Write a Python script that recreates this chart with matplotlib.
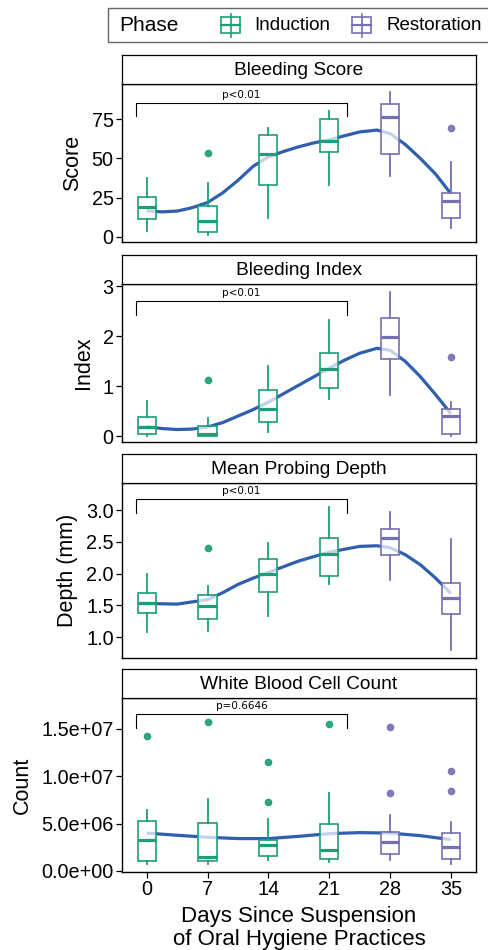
import numpy as np
import matplotlib.pyplot as plt
from matplotlib.patches import Rectangle
from matplotlib.lines import Line2D

plt.rcParams['font.family'] = ['Liberation Sans', 'DejaVu Sans']

# --- data ---
DAYS = [0, 7, 14, 21, 28, 35]
PHASE = ['Induction', 'Induction', 'Induction', 'Induction', 'Restoration', 'Restoration']
PHASE_COLORS = {'Induction': '#1b9e77', 'Restoration': '#7570b3'}
SMOOTH_COLOR = '#2f5fae'

TITLES = ['Bleeding Score', 'Bleeding Index', 'Mean Probing Depth', 'White Blood Cell Count']
YLABELS = ['Score', 'Index', 'Depth (mm)', 'Count']
PVALUES = ['p<0.01', 'p<0.01', 'p<0.01', 'p=0.6646']

# Bleeding Score
bs_whislo = [3.6, 1.0, 11.7, 33.3, 38.9, 5.7]
bs_q1 = [11.0, 3.2, 32.9, 54.1, 52.9, 11.7]
bs_med = [18.7, 10.2, 53.0, 61.4, 76.6, 22.7]
bs_q3 = [25.5, 19.7, 65.0, 75.6, 84.7, 28.0]
bs_whishi = [37.2, 34.4, 69.6, 80.5, 92.6, 48.0]
bs_fliers = [[], [53.7], [], [], [], [69.6]]
bs_smooth_x = [0, 1.75, 3.5, 5.25, 7, 8.75, 10.5, 12.25, 14, 15.75, 17.5, 19.25, 21, 22.75, 24.5, 26.5, 28, 29.75, 31.5, 33.25, 35]
bs_smooth_y = [16.5, 15.8, 16.3, 18.5, 21.8, 28.0, 36.0, 45.0, 51.0, 54.5, 57.5, 60.0, 62.0, 64.5, 67.0, 68.2, 66.0, 59.0, 50.0, 40.0, 27.5]

# Bleeding Index
bi_whislo = [0.01, 0.0, 0.08, 0.75, 0.83, 0.0]
bi_q1 = [0.05, 0.0, 0.28, 0.97, 1.54, 0.05]
bi_med = [0.18, 0.05, 0.55, 1.34, 1.99, 0.40]
bi_q3 = [0.38, 0.21, 0.92, 1.66, 2.37, 0.54]
bi_whishi = [0.70, 0.36, 1.41, 2.33, 2.89, 0.68]
bi_fliers = [[], [1.13], [], [], [], [1.58]]
bi_smooth_x = [0, 1.75, 3.5, 5.25, 7, 8.75, 10.5, 12.25, 14, 15.75, 17.5, 19.25, 21, 22.75, 24.5, 26.5, 28, 29.75, 31.5, 33.25, 35]
bi_smooth_y = [0.19, 0.15, 0.13, 0.14, 0.18, 0.27, 0.40, 0.53, 0.68, 0.85, 1.02, 1.19, 1.36, 1.52, 1.66, 1.76, 1.72, 1.50, 1.19, 0.83, 0.45]

# Mean Probing Depth
pd_whislo = [1.08, 1.09, 1.33, 1.83, 1.90, 0.80]
pd_q1 = [1.38, 1.28, 1.71, 1.97, 2.29, 1.37]
pd_med = [1.54, 1.49, 2.00, 2.31, 2.56, 1.61]
pd_q3 = [1.69, 1.67, 2.23, 2.56, 2.71, 1.85]
pd_whishi = [2.00, 1.81, 2.49, 3.05, 2.98, 2.54]
pd_fliers = [[], [2.40], [], [], [], []]
pd_smooth_x = [0, 3.5, 7, 8.75, 10.5, 12.25, 14, 17.5, 21, 24.5, 26.5, 28, 29.75, 31.5, 33.25, 35]
pd_smooth_y = [1.53, 1.52, 1.59, 1.70, 1.83, 1.93, 2.02, 2.20, 2.34, 2.43, 2.44, 2.41, 2.30, 2.14, 1.93, 1.69]

# White Blood Cell Count
wb_whislo = [7.7e5, 7.7e5, 1.2e6, 9.9e5, 1.16e6, 7.0e5]
wb_q1 = [1.09e6, 1.06e6, 1.58e6, 1.27e6, 1.80e6, 1.30e6]
wb_med = [3.27e6, 1.48e6, 2.75e6, 2.22e6, 3.10e6, 2.57e6]
wb_q3 = [5.32e6, 5.10e6, 3.31e6, 5.00e6, 4.12e6, 4.05e6]
wb_whishi = [6.41e6, 7.60e6, 5.46e6, 8.24e6, 5.92e6, 5.18e6]
wb_fliers = [[1.426e7], [1.574e7], [1.155e7, 7.29e6], [1.556e7], [1.525e7, 8.24e6], [1.053e7, 8.45e6]]
wb_smooth_x = [0, 3.5, 7, 10.5, 14, 17.5, 21, 24.5, 28, 31.5, 35]
wb_smooth_y = [4.0e6, 3.77e6, 3.56e6, 3.42e6, 3.42e6, 3.66e6, 3.94e6, 4.05e6, 4.0e6, 3.73e6, 3.31e6]

# significance brackets: x span, (end bottom, bar top, label y)
BRACKET_X = [-1.2, 23.0]
BRACKET_Y = [(77.5, 85.4, 87.5), (2.42, 2.70, 2.76), (2.96, 3.18, 3.22), (1.51e7, 1.658e7, 1.69e7)]

YLIMS = [(-3.5, 97.7), (-0.12, 3.05), (0.67, 3.43), (-1.1e5, 1.827e7)]
YTICKS = [[0, 25, 50, 75], [0, 1, 2, 3], [1.0, 1.5, 2.0, 2.5, 3.0], [0, 5e6, 1e7, 1.5e7]]
YTICKLABELS = [['0', '25', '50', '75'], ['0', '1', '2', '3'],
               ['1.0', '1.5', '2.0', '2.5', '3.0'],
               ['0.0e+00', '5.0e+06', '1.0e+07', '1.5e+07']]

panels = [
    (bs_whislo, bs_q1, bs_med, bs_q3, bs_whishi, bs_fliers, bs_smooth_x, bs_smooth_y),
    (bi_whislo, bi_q1, bi_med, bi_q3, bi_whishi, bi_fliers, bi_smooth_x, bi_smooth_y),
    (pd_whislo, pd_q1, pd_med, pd_q3, pd_whishi, pd_fliers, pd_smooth_x, pd_smooth_y),
    (wb_whislo, wb_q1, wb_med, wb_q3, wb_whishi, wb_fliers, wb_smooth_x, wb_smooth_y),
]

# --- layout (pixels of a 488x950 canvas) ---
W, H = 488, 950
fig = plt.figure(figsize=(W / 100, H / 100), dpi=100)

def fx(x):
    return x / W

def fy(y):
    return 1 - y / H

LEFT, RIGHT = 122, 476
# (strip top, strip bottom / plot top, plot bottom)
ROWS = [(55, 84, 242), (255, 284, 442), (454, 483, 658), (669, 698, 872)]

for k, (row, data) in enumerate(zip(ROWS, panels)):
    st, pt, pb = row
    whislo, q1, med, q3, whishi, fliers, sx, sy = data

    ax = fig.add_axes([fx(LEFT), fy(pb), fx(RIGHT - LEFT), (pb - pt) / H])
    sax = fig.add_axes([fx(LEFT), fy(pt), fx(RIGHT - LEFT), (pt - st) / H])
    sax.set_xticks([])
    sax.set_yticks([])
    sax.set_facecolor('white')
    for sp in sax.spines.values():
        sp.set_linewidth(0.9)
    sax.text(0.5, 0.45, TITLES[k], ha='center', va='center', fontsize=13.8, transform=sax.transAxes)

    # smooth line underneath the boxes
    ax.plot(sx, sy, color=SMOOTH_COLOR, lw=2.3, zorder=1, solid_capstyle='butt')

    stats = []
    for i in range(len(DAYS)):
        stats.append(dict(whislo=whislo[i], q1=q1[i], med=med[i], q3=q3[i],
                          whishi=whishi[i], fliers=fliers[i]))
    bp = ax.bxp(stats, positions=DAYS, widths=2.1, patch_artist=True,
                showcaps=False, showfliers=True, manage_ticks=False, zorder=2)
    for i, ph in enumerate(PHASE):
        c = PHASE_COLORS[ph]
        box = bp['boxes'][i]
        box.set_facecolor((1, 1, 1, 0.72))
        box.set_edgecolor(c)
        box.set_linewidth(1.2)
        bp['medians'][i].set_color(c)
        bp['medians'][i].set_linewidth(2.3)
        for w in bp['whiskers'][2 * i:2 * i + 2]:
            w.set_color(c)
            w.set_linewidth(1.3)
        fl = bp['fliers'][i]
        fl.set_marker('o')
        fl.set_markerfacecolor(c)
        fl.set_markeredgecolor(c)
        fl.set_alpha(0.9)
        fl.set_markersize(4.5)

    lo, hi, ty = BRACKET_Y[k]
    ax.plot([BRACKET_X[0], BRACKET_X[0], BRACKET_X[1], BRACKET_X[1]], [lo, hi, hi, lo],
            color='black', lw=0.8, zorder=3)
    ax.text(np.mean(BRACKET_X), ty, PVALUES[k], ha='center', va='bottom',
            fontsize=7.5, family=['DejaVu Sans'])

    ax.set_xlim(-2.85, 37.9)
    ax.set_ylim(*YLIMS[k])
    ax.set_yticks(YTICKS[k])
    ax.set_yticklabels(YTICKLABELS[k])
    ax.set_ylabel(YLABELS[k], fontsize=15.5, labelpad=6)
    for sp in ax.spines.values():
        sp.set_linewidth(1.0)
    ax.tick_params(axis='both', labelsize=14.3, length=4, width=0.9, pad=2)
    if k < 3:
        ax.tick_params(axis='x', bottom=False, labelbottom=False)
    else:
        ax.set_xticks(DAYS)
        ax.set_xticklabels([str(d) for d in DAYS])
        ax.set_xlabel('Days Since Suspension\nof Oral Hygiene Practices', fontsize=16,
                      linespacing=1.1, labelpad=5)

# --- legend drawn by hand so the title sits on the left ---
fig.patches.append(Rectangle((fx(108), fy(42)), fx(400), 34 / H, transform=fig.transFigure,
                             facecolor='white', edgecolor='#666666', lw=1.0, clip_on=False))
fig.text(fx(119), fy(25.5), 'Phase', fontsize=15, va='center', ha='left')
for x0, ph, tx in [(221, 'Induction', 254), (352, 'Restoration', 387)]:
    c = PHASE_COLORS[ph]
    fig.lines.append(Line2D([fx(x0 + 9.5)] * 2, [fy(13.5), fy(36.5)], transform=fig.transFigure, color=c, lw=1.2))
    fig.patches.append(Rectangle((fx(x0), fy(33)), fx(19), 16 / H, transform=fig.transFigure,
                                 facecolor='white', edgecolor=c, lw=1.2))
    fig.lines.append(Line2D([fx(x0), fx(x0 + 19)], [fy(25.3)] * 2, transform=fig.transFigure, color=c, lw=1.6))
    fig.text(fx(tx), fy(25.5), ph, fontsize=13.5, va='center', ha='left')

fig.savefig('out.png', dpi=100)
